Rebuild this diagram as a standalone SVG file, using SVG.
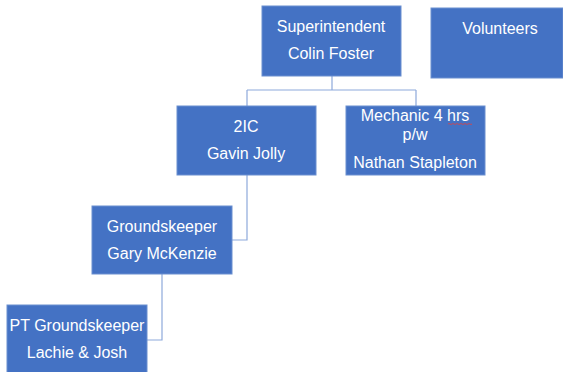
<svg xmlns="http://www.w3.org/2000/svg" width="563" height="372" viewBox="0 0 563 372">
<style>
.box{fill:#4472C4;stroke:#6A8FD0;stroke-width:1}
.t{font-family:"Liberation Sans",Arial,sans-serif;font-size:16px;fill:#fff;text-anchor:middle}
.c{fill:none;stroke:#8EA9DB;stroke-width:1.2}
</style>
<rect width="563" height="372" fill="#fff"/>
<g id="connectors">
<path class="c" d="M332,76V90M247,90H416M247,90V106M416,90V106"/>
<path class="c" d="M247,175V240H232"/>
<path class="c" d="M162,274V340H147"/>
</g>
<g id="superintendent">
<rect class="box" x="262" y="6" width="139" height="70"/>
<text class="t" x="331" y="32">Superintendent</text>
<text class="t" x="331" y="59">Colin Foster</text>
</g>
<g id="volunteers">
<rect class="box" x="431" y="8" width="132" height="70"/>
<text class="t" x="500" y="34">Volunteers</text>
</g>
<g id="second-in-charge">
<rect class="box" x="177" y="106" width="139" height="69"/>
<text class="t" x="246" y="132">2IC</text>
<text class="t" x="246" y="159">Gavin Jolly</text>
</g>
<g id="mechanic">
<rect class="box" x="346" y="106" width="139" height="69"/>
<text class="t" x="415" y="121">Mechanic 4 hrs</text>
<text class="t" x="415" y="140">p/w</text>
<text class="t" x="415" y="168">Nathan Stapleton</text>
<path d="M448,124q1,-1 2,0t2,0t2,0t2,0t2,0t2,0t2,0t2,0t2,0t2,0t2,0t2,0" fill="none" stroke="#E04040" stroke-width="0.8"/>
</g>
<g id="groundskeeper">
<rect class="box" x="92" y="206" width="140" height="68"/>
<text class="t" x="162" y="232">Groundskeeper</text>
<text class="t" x="162" y="259">Gary McKenzie</text>
</g>
<g id="pt-groundskeeper">
<rect class="box" x="7" y="305" width="140" height="68"/>
<text class="t" x="77" y="331">PT Groundskeeper</text>
<text class="t" x="77" y="358">Lachie &amp; Josh</text>
</g>
</svg>
